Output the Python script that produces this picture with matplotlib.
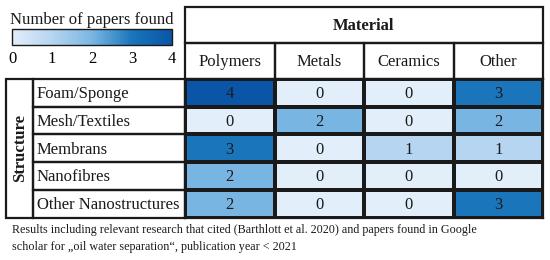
import matplotlib as mpl
import matplotlib.pyplot as plt
from matplotlib.colors import LinearSegmentedColormap
import numpy as np

# --- data ---
materials = ["Polymers", "Metals", "Ceramics", "Other"]
structures = ["Foam/Sponge", "Mesh/Textiles", "Membrans", "Nanofibres", "Other Nanostructures"]
polymers = [4, 0, 3, 2, 2]
metals = [0, 2, 0, 0, 0]
ceramics = [0, 0, 1, 0, 0]
other = [3, 2, 1, 0, 3]
cbar_ticks = [0, 1, 2, 3, 4]

caption = ("Results including relevant research that cited (Barthlott et al. 2020) and papers found in Google\n"
           "scholar for \u201eoil water separation\u201c, publication year < 2021")

mpl.rcParams.update({
    "font.family": ["Liberation Serif", "DejaVu Serif"],
    "text.color": "#1a1a1a",
})

W, H = 550, 260
FS = 12
fig = plt.figure(figsize=(W / 100, H / 100), dpi=100)

def px_axes(x0, y0, x1, y1):
    # axes from pixel box (top-left origin)
    return fig.add_axes([x0 / W, 1 - y1 / H, (x1 - x0) / W, (y1 - y0) / H])

cmap = LinearSegmentedColormap.from_list(
    "papers", ["#e2eef9", "#b5d5f0", "#7ab6e3", "#1a75bb", "#0a55a8"])

vals = np.array([polymers, metals, ceramics, other]).T
lw = 1.6
edge = "#1a1a1a"

# overlay for boxes and labels
ov = fig.add_axes([0, 0, 1, 1])
ov.set_xlim(0, W)
ov.set_ylim(H, 0)
ov.axis("off")

tx0, tx1 = 185, 543
ty_top, ty_hdr, ty0, ty1 = 7, 43, 79, 217.5
sx0, sx1 = 6, 33

# heatmap cells
ax = px_axes(tx0, ty0, tx1, ty1)
ax.pcolormesh(np.arange(len(materials) + 1), np.arange(len(structures) + 1), vals,
              cmap=cmap, vmin=0, vmax=4, edgecolors=edge, linewidth=lw)
ax.set_xlim(0, len(materials))
ax.set_ylim(len(structures), 0)
ax.set_xticks([])
ax.set_yticks([])
for s in ax.spines.values():
    s.set_linewidth(lw)
    s.set_color(edge)
for i in range(len(structures)):
    for j in range(len(materials)):
        ax.text(j + 0.5, i + 0.55, str(vals[i, j]), ha="center", va="center", fontsize=FS)

# header boxes
cw = (tx1 - tx0) / len(materials)
ov.add_patch(plt.Rectangle((tx0, ty_top), tx1 - tx0, ty_hdr - ty_top, fill=False, ec=edge, lw=lw))
ov.text((tx0 + tx1) / 2, (ty_top + ty_hdr) / 2 + 1, "Material", ha="center", va="center",
        fontsize=FS, fontweight="bold")
for j, m in enumerate(materials):
    ov.add_patch(plt.Rectangle((tx0 + j * cw, ty_hdr), cw, ty0 - ty_hdr, fill=False, ec=edge, lw=lw))
    ov.text(tx0 + (j + 0.5) * cw, (ty_hdr + ty0) / 2 + 1, m, ha="center", va="center", fontsize=FS)

# row label boxes
rh = (ty1 - ty0) / len(structures)
ov.add_patch(plt.Rectangle((sx0, ty0), sx1 - sx0, ty1 - ty0, fill=False, ec=edge, lw=lw))
ov.text((sx0 + sx1) / 2 + 1, (ty0 + ty1) / 2, "Structure", rotation=90, ha="center", va="center",
        fontsize=FS, fontweight="bold")
for i, s in enumerate(structures):
    ov.add_patch(plt.Rectangle((sx1, ty0 + i * rh), tx0 - sx1, rh, fill=False, ec=edge, lw=lw))
    ov.text(sx1 + 4, ty0 + (i + 0.55) * rh, s, ha="left", va="center", fontsize=FS)

# colorbar
cax = px_axes(12, 29, 172, 45)
sm = mpl.cm.ScalarMappable(norm=mpl.colors.Normalize(0, 4), cmap=cmap)
cb = fig.colorbar(sm, cax=cax, orientation="horizontal", ticks=cbar_ticks)
cb.outline.set_linewidth(1.0)
cb.outline.set_edgecolor(edge)
cax.tick_params(length=0, labelsize=FS, pad=4.5)
ov.text(10, 24, "Number of papers found", ha="left", va="baseline", fontsize=FS)

# caption
ov.text(12, 224.5, caption, ha="left", va="top", fontsize=8.7, linespacing=1.45)

fig.savefig("out.png", dpi=100)
